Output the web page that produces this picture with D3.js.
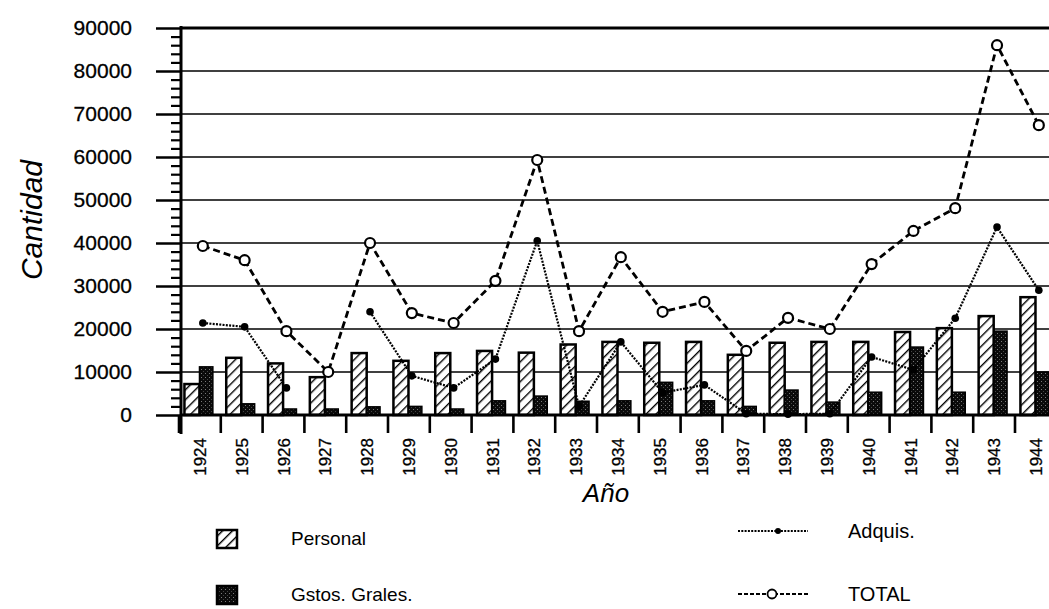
<!DOCTYPE html>
<html>
<head>
<meta charset="utf-8">
<script src="https://cdn.jsdelivr.net/npm/d3@7"></script>
<style>
  html, body { margin: 0; padding: 0; background: #fff; }
  svg { display: block; font-family: "Liberation Sans", Arial, Helvetica, sans-serif; }
</style>
</head>
<body>
<svg id="chart" width="1049" height="609"></svg>
<script>
// ---- data ----
const years = ["1924","1925","1926","1927","1928","1929","1930","1931","1932","1933","1934",
               "1935","1936","1937","1938","1939","1940","1941","1942","1943","1944"];
const personal = [7200,13300,12000,8800,14400,12600,14400,14900,14500,16400,17000,
                  16800,17000,14000,16800,17000,17000,19300,20200,23000,27400];
const gastos   = [11200,2600,1400,1400,1900,2000,1400,3300,4400,3200,3300,
                  7600,3300,2000,5800,3000,5300,15800,5300,19500,10000];
const adquis   = [21400,20500,6300,null,24000,9100,6300,13000,40500,2000,17000,
                  5200,7000,300,200,300,13500,10500,22500,43700,29000];
const total    = [39300,36000,19500,10000,40000,23700,21400,31200,59300,19500,36700,
                  24000,26300,14900,22600,20000,35100,42800,48100,86000,67400];
const yTicks   = [0,10000,20000,30000,40000,50000,60000,70000,80000,90000];
const legendBars  = ["Personal","Gstos. Grales."];
const legendLines = ["Adquis.","TOTAL"];

(function () {
const svg = d3.select("#chart");
const W = 1049;
const mLeft = 181, mTop = 28, mBottom = 415;

const x = d3.scaleBand().domain(years).range([179, 179 + 21 * 41.8]).padding(0);
const bw = x.bandwidth();
const y = d3.scaleLinear().domain([0, 90000]).range([mBottom, mTop]);

// patterns
const defs = svg.append("defs");
const hatch = defs.append("pattern").attr("id","hatch").attr("patternUnits","userSpaceOnUse")
  .attr("width",7).attr("height",7).attr("patternTransform","rotate(45)");
hatch.append("rect").attr("width",7).attr("height",7).attr("fill","#fff");
hatch.append("line").attr("x1",0).attr("y1",0).attr("x2",0).attr("y2",7)
  .attr("stroke","#000").attr("stroke-width",2.8);
const stip = defs.append("pattern").attr("id","stip").attr("patternUnits","userSpaceOnUse")
  .attr("width",4).attr("height",4);
stip.append("rect").attr("width",4).attr("height",4).attr("fill","#0a0a0a");
stip.append("rect").attr("x",1).attr("y",1).attr("width",1).attr("height",1).attr("fill","#7a7a7a");
stip.append("rect").attr("x",3).attr("y",3).attr("width",1).attr("height",1).attr("fill","#444");

// gridlines
svg.append("g").selectAll("line").data(yTicks.filter(d => d > 0)).join("line")
  .attr("x1", mLeft).attr("x2", W)
  .attr("y1", d => y(d)).attr("y2", d => y(d))
  .attr("stroke","#000").attr("stroke-width", d => d === 90000 ? 3 : 1.7);

// y axis major ticks + labels
const yAxis = d3.axisLeft(y).tickValues(yTicks).tickSize(25).tickPadding(24).tickFormat(d3.format("d"));
const gy = svg.append("g").attr("transform", `translate(${mLeft},0)`).call(yAxis);
gy.select(".domain").remove();
gy.selectAll(".tick line").attr("stroke","#000").attr("stroke-width",2.5);
gy.selectAll(".tick text").attr("font-size",21).attr("fill","#000").attr("dy","0.3em")
  .attr("stroke","#000").attr("stroke-width",0.3);

// minor ticks
const minor = d3.range(0, 90001, 2000).filter(d => d % 10000 !== 0);
const gm = svg.append("g").attr("transform", `translate(${mLeft},0)`)
  .call(d3.axisLeft(y).tickValues(minor).tickSize(10).tickFormat(""));
gm.select(".domain").remove();
gm.selectAll(".tick line").attr("stroke","#000").attr("stroke-width",2.2);

// y axis line
svg.append("line").attr("x1",mLeft).attr("x2",mLeft).attr("y1",mTop-2).attr("y2",434)
  .attr("stroke","#000").attr("stroke-width",3);

// bars
svg.append("g").selectAll("rect").data(years).join("rect")
  .attr("x", d => x(d) + bw*0.13).attr("width", bw*0.36)
  .attr("y", (d,i) => y(personal[i])).attr("height", (d,i) => y(0) - y(personal[i]))
  .attr("fill","url(#hatch)").attr("stroke","#000").attr("stroke-width",2.5);
svg.append("g").selectAll("rect").data(years).join("rect")
  .attr("x", d => x(d) + bw*0.49).attr("width", bw*0.32)
  .attr("y", (d,i) => y(gastos[i])).attr("height", (d,i) => y(0) - y(gastos[i]))
  .attr("fill","url(#stip)").attr("stroke","#000").attr("stroke-width",1.5);

// x axis
const gx = svg.append("g").attr("transform", `translate(0,${mBottom})`);
gx.append("line").attr("x1",mLeft).attr("x2",W).attr("y1",0).attr("y2",0)
  .attr("stroke","#000").attr("stroke-width",2.8);
gx.selectAll("line.t").data(years).join("line").attr("class","t")
  .attr("x1", d => x(d)).attr("x2", d => x(d)).attr("y1",0).attr("y2",18)
  .attr("stroke","#000").attr("stroke-width",2.6);
gx.selectAll("text").data(years).join("text")
  .attr("transform", d => `translate(${x(d) + bw/2 + 6},23) rotate(-90)`)
  .attr("text-anchor","end").attr("font-size",17).attr("fill","#000")
  .attr("stroke","#000").attr("stroke-width",0.3).text(d => d);

// lines
const cx = d => x(d) + bw*0.57;
const lineGen = arr => d3.line().defined((d,i) => arr[i] !== null)
  .x(d => cx(d)).y((d,i) => y(arr[i]));

svg.append("path").datum(years).attr("d", lineGen(total))
  .attr("fill","none").attr("stroke","#000").attr("stroke-width",2.8).attr("stroke-dasharray","7,4");
svg.append("path").datum(years).attr("d", lineGen(adquis))
  .attr("fill","none").attr("stroke","#000").attr("stroke-width",2.2).attr("stroke-dasharray","2,1.3");

svg.append("g").selectAll("circle").data(years.filter((d,i) => adquis[i] !== null)).join("circle")
  .attr("cx", d => cx(d)).attr("cy", d => y(adquis[years.indexOf(d)])).attr("r",3.8).attr("fill","#000");
svg.append("g").selectAll("circle").data(years).join("circle")
  .attr("cx", d => cx(d)).attr("cy", (d,i) => y(total[i])).attr("r",5)
  .attr("fill","#fff").attr("stroke","#000").attr("stroke-width",2.2);

// axis titles
svg.append("text").attr("transform","translate(42,220) rotate(-90)").attr("text-anchor","middle")
  .attr("font-size",30).attr("font-style","italic").attr("fill","#000").text("Cantidad");
svg.append("text").attr("x",606).attr("y",502).attr("text-anchor","middle")
  .attr("font-size",26).attr("font-style","italic").attr("fill","#000").text("Año");

// legend
const lb = svg.append("g");
const barFills = ["url(#hatch)","url(#stip)"];
const barY = [530, 586];
legendBars.forEach((name,i) => {
  lb.append("rect").attr("x",217).attr("y",barY[i]).attr("width",20).attr("height",18)
    .attr("fill",barFills[i]).attr("stroke","#000").attr("stroke-width",2.5);
  lb.append("text").attr("x",291).attr("y",barY[i]+15).attr("font-size",19).attr("fill","#000").text(name);
});
const lineY = [531, 594];
legendLines.forEach((name,i) => {
  const dash = i === 0 ? "2,1.3" : "4,2";
  lb.append("line").attr("x1",738).attr("x2",808).attr("y1",lineY[i]).attr("y2",lineY[i])
    .attr("stroke","#000").attr("stroke-width",1.8).attr("stroke-dasharray",dash);
  if (i === 0) lb.append("circle").attr("cx",778).attr("cy",lineY[i]).attr("r",3).attr("fill","#000");
  else lb.append("circle").attr("cx",772).attr("cy",lineY[i]).attr("r",4.5).attr("fill","#fff")
    .attr("stroke","#000").attr("stroke-width",1.8);
  lb.append("text").attr("x",848).attr("y",lineY[i]+7).attr("font-size",20).attr("fill","#000").text(name);
});
})();
</script>
</body>
</html>
